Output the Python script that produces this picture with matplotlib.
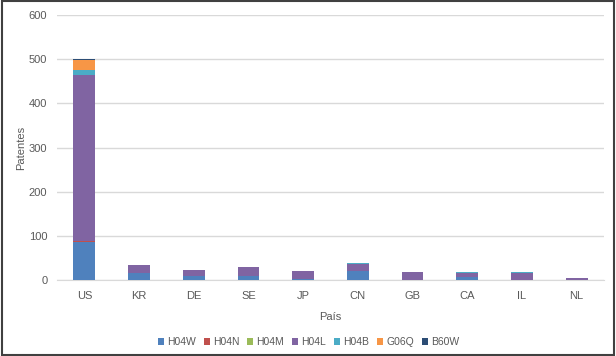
import numpy as np
import matplotlib.pyplot as plt
from matplotlib.patches import Rectangle

# Data
PAISES = ["US", "KR", "DE", "SE", "JP", "CN", "GB", "CA", "IL", "NL"]
SERIES = ["H04W", "H04N", "H04M", "H04L", "H04B", "G06Q", "B60W"]
H04W = [87, 15, 8, 9, 2, 20, 1, 7, 1, 0]
H04N = [2, 1, 0, 0, 0, 0, 0, 0, 0, 0]
H04M = [0, 0, 0, 0, 0, 0, 0, 0, 0, 0]
H04L = [375, 18, 15, 20, 19, 16, 17, 9, 15, 4]
H04B = [11, 0, 0, 1, 0, 2, 0, 2, 2, 0]
G06Q = [23, 1, 0, 0, 0, 0, 0, 0, 0, 0]
B60W = [2, 0, 0, 0, 0, 0, 0, 0, 0, 0]
COLORS = ["#4F81BD", "#C0504D", "#9BBB59", "#8064A2", "#4BACC6", "#F79646", "#2C4D75"]

plt.rcParams['font.family'] = ['Liberation Sans', 'DejaVu Sans']
TXT = "#595959"

fig = plt.figure(figsize=(6.16, 3.56), dpi=100)
ax = fig.add_axes([57 / 616, 1 - 280 / 356, 547 / 616, 265 / 356])

values = [H04W, H04N, H04M, H04L, H04B, G06Q, B60W]
x = np.arange(len(PAISES))
bottom = np.zeros(len(PAISES))
for name, vals, col in zip(SERIES, values, COLORS):
    ax.bar(x, vals, 0.4, bottom=bottom, color=col, label=name, zorder=3)
    bottom += np.array(vals)

ax.set_xlim(-0.5, len(PAISES) - 0.5)
ax.set_ylim(0, 600)
ax.set_yticks(range(0, 601, 100))
ax.set_xticks(x)
ax.set_xticklabels(PAISES)
ax.grid(axis='y', color="#D9D9D9", linewidth=1, zorder=0)
for s in ["top", "right", "left"]:
    ax.spines[s].set_visible(False)
ax.spines["bottom"].set_color("#D9D9D9")
ax.tick_params(length=0, labelsize=8, colors=TXT, pad=8)
ax.tick_params(axis='y', pad=7)
ax.set_xlabel("País", fontsize=8, color=TXT, labelpad=8)
ax.set_ylabel("Patentes", fontsize=8, color=TXT)
ax.yaxis.set_label_coords(-31 / 547, 0.5)

ax.legend(loc="center", bbox_to_anchor=(0.46, -0.235), ncol=7, frameon=False,
          fontsize=7.5, handlelength=0.6, handleheight=0.6, handletextpad=0.3,
          columnspacing=0.75, labelcolor=TXT)

fig.patches.append(Rectangle((0.003, 0.003), 0.994, 0.994, transform=fig.transFigure,
                             fill=False, edgecolor="#404040", linewidth=1.5))

fig.savefig("out.png", dpi=100)
